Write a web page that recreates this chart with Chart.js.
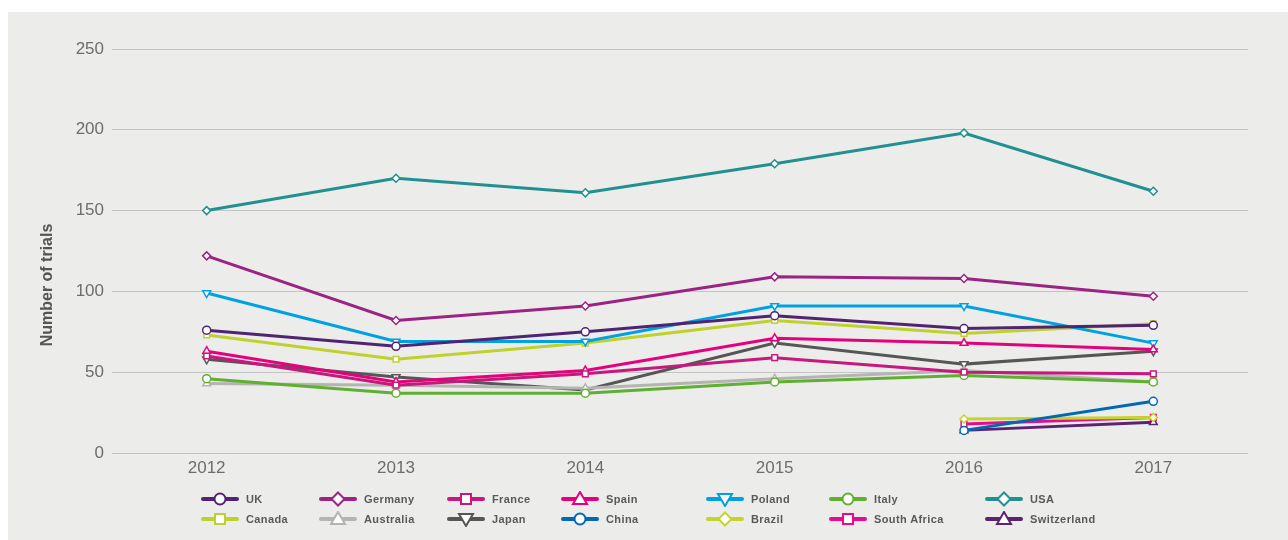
<!DOCTYPE html>
<html>
<head>
<meta charset="utf-8">
<title>Number of trials by country</title>
<script src="https://cdn.jsdelivr.net/npm/chart.js@4.4.1/dist/chart.umd.min.js"></script>
<style>
    html, body { margin: 0; padding: 0; background: #ffffff; }
    #panel {
        position: absolute; left: 8px; top: 12px;
        width: 1280px; height: 528px;
        background: #ececea;
    }
    #trialsChart { position: absolute; left: 0; top: 0; }
    #legend { position: absolute; left: 0; top: 0; width: 1280px; height: 528px; pointer-events: none; }
    #yTitle {
        position: absolute; left: 39px; top: 273px;
        transform: translate(-50%, -50%) rotate(-90deg);
        font-family: "Liberation Sans", Arial, sans-serif;
        font-weight: bold; font-size: 16px; color: #555555;
        white-space: nowrap;
    }
    .legend-item {
        position: absolute; display: flex; align-items: center;
        font-family: "Liberation Sans", Arial, sans-serif;
        font-weight: bold; font-size: 11px; letter-spacing: 0.4px;
        color: #58595b; white-space: nowrap;
    }
    .legend-item svg { margin-right: 7px; }
</style>
</head>
<body>
<div id="panel">
    <canvas id="trialsChart" width="1280" height="528"></canvas>
    <div id="yTitle">Number of trials</div>
    <div id="legend"></div>
</div>
<script>
// Chart data
const years = ['2012', '2013', '2014', '2015', '2016', '2017'];
const yTicks = [0, 50, 100, 150, 200, 250];

const countries = ['UK', 'Germany', 'France', 'Spain', 'Poland', 'Italy', 'USA',
                   'Canada', 'Australia', 'Japan', 'China', 'Brazil', 'South Africa', 'Switzerland'];

const ukTrials          = [76, 66, 75, 85, 77, 79];
const germanyTrials     = [122, 82, 91, 109, 108, 97];
const franceTrials      = [60, 42, 49, 59, 50, 49];
const spainTrials       = [63, 44, 51, 71, 68, 64];
const polandTrials      = [99, 69, 69, 91, 91, 68];
const italyTrials       = [46, 37, 37, 44, 48, 44];
const usaTrials         = [150, 170, 161, 179, 198, 162];
const canadaTrials      = [73, 58, 68, 82, 74, 80];
const australiaTrials   = [43, 42, 40, 46, 51, 44];
const japanTrials       = [58, 47, 39, 68, 55, 63];
const chinaTrials       = [null, null, null, null, 14, 32];
const brazilTrials      = [null, null, null, null, 21, 22];
const southAfricaTrials = [null, null, null, null, 18, 22];
const switzerlandTrials = [null, null, null, null, 14, 19];

const seriesValues = [ukTrials, germanyTrials, franceTrials, spainTrials, polandTrials, italyTrials, usaTrials,
                      canadaTrials, australiaTrials, japanTrials, chinaTrials, brazilTrials, southAfricaTrials, switzerlandTrials];

// Styles per country
const colors = ['#512373', '#9c2283', '#c8177d', '#e5007d', '#00a1e1', '#5fb030', '#219090',
                '#bfd22b', '#b4b4b4', '#565656', '#0069b4', '#c3d42a', '#ea0b8c', '#5c2371'];
const markers = ['circle', 'diamond', 'square', 'triangle', 'down', 'circle', 'diamond',
                 'square', 'triangle', 'down', 'circle', 'diamond', 'square', 'triangle'];

// legend layout (panel coords)
const legendCols = [193, 311, 439, 553, 698, 821, 977];
const legendRows = [487, 507];

const chartStyle = {
    circle:   { pointStyle: 'circle',   rotation: 0,   radius: 4 },
    diamond:  { pointStyle: 'rectRot',  rotation: 0,   radius: 4 },
    square:   { pointStyle: 'rect',     rotation: 0,   radius: 4 },
    triangle: { pointStyle: 'triangle', rotation: 0,   radius: 4.5 },
    down:     { pointStyle: 'triangle', rotation: 180, radius: 4.5 }
};

const datasets = countries.map((name, i) => {
    const st = chartStyle[markers[i]];
    return {
        label: name,
        data: seriesValues[i],
        borderColor: colors[i],
        backgroundColor: '#ffffff',
        borderWidth: 3,
        tension: 0,
        pointStyle: st.pointStyle,
        pointRotation: st.rotation,
        pointRadius: st.radius,
        pointBorderWidth: 1.5,
        pointBorderColor: colors[i],
        pointBackgroundColor: '#ffffff',
        spanGaps: false
    };
});

const ctx = document.getElementById('trialsChart').getContext('2d');
new Chart(ctx, {
    type: 'line',
    data: { labels: years, datasets },
    options: {
        responsive: false,
        animation: false,
        layout: { padding: { left: 29, right: 40, top: 37, bottom: 0 } },
        plugins: {
            legend: { display: false },
            tooltip: { enabled: false }
        },
        scales: {
            x: {
                offset: true,
                grid: { display: false, drawTicks: false },
                border: { display: false },
                ticks: {
                    color: '#6d6d6d',
                    padding: 5,
                    maxRotation: 0,
                    font: { family: '"Liberation Sans", Arial, sans-serif', size: 17 }
                },
                afterFit: scale => { scale.height = 87; }
            },
            y: {
                min: 0,
                max: 250,
                afterBuildTicks: scale => { scale.ticks = yTicks.map(v => ({ value: v })); },
                grid: { color: '#c4c4c4', lineWidth: 1, drawTicks: false },
                border: { display: false },
                ticks: {
                    color: '#6d6d6d',
                    padding: 8,
                    font: { family: '"Liberation Sans", Arial, sans-serif', size: 17 }
                },
                afterFit: scale => { scale.width = 75; }
            }
        }
    }
});

// HTML legend with line + marker symbols
function markerSvg(kind, color) {
    const cx = 19, cy = 8;
    let shape = '';
    const attrs = `fill="#ffffff" stroke="${color}" stroke-width="2"`;
    if (kind === 'circle') shape = `<circle cx="${cx}" cy="${cy}" r="5.5" ${attrs}/>`;
    if (kind === 'square') shape = `<rect x="${cx - 5}" y="${cy - 5}" width="10" height="10" ${attrs}/>`;
    if (kind === 'diamond') shape = `<polygon points="${cx},${cy - 6.5} ${cx + 6.5},${cy} ${cx},${cy + 6.5} ${cx - 6.5},${cy}" ${attrs}/>`;
    if (kind === 'triangle') shape = `<polygon points="${cx},${cy - 7} ${cx + 7},${cy + 5} ${cx - 7},${cy + 5}" ${attrs}/>`;
    if (kind === 'down') shape = `<polygon points="${cx - 7},${cy - 5} ${cx + 7},${cy - 5} ${cx},${cy + 7}" ${attrs}/>`;
    return `<svg width="38" height="16" viewBox="0 0 38 16">
        <line x1="2" y1="${cy}" x2="36" y2="${cy}" stroke="${color}" stroke-width="4" stroke-linecap="round"/>
        ${shape}</svg>`;
}

const legendEl = document.getElementById('legend');
countries.forEach((name, i) => {
    const item = document.createElement('div');
    item.className = 'legend-item';
    item.style.left = legendCols[i % 7] + 'px';
    item.style.top = (legendRows[Math.floor(i / 7)] - 8) + 'px';
    item.innerHTML = markerSvg(markers[i], colors[i]) + `<span>${name}</span>`;
    legendEl.appendChild(item);
});
</script>
</body>
</html>
